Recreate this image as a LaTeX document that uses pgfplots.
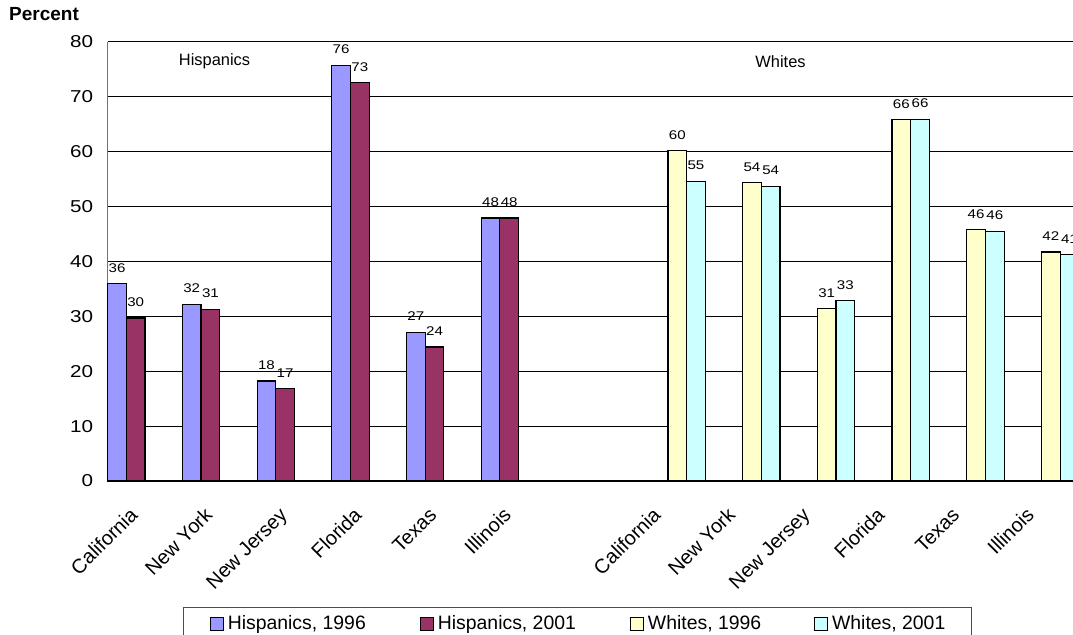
\documentclass[border=0pt]{standalone}
\usepackage{pgfplots}
\pgfplotsset{compat=1.18}
\usepackage{fontspec}
\setmainfont{Liberation Sans}
\newfontfamily\numfont{Liberation Sans}[FakeStretch=1.2]

\definecolor{hisA}{HTML}{9999FF}
\definecolor{hisB}{HTML}{993366}
\definecolor{whiA}{HTML}{FFFFCC}
\definecolor{whiB}{HTML}{CCFFFF}

% Share of each group, by state; bars sit in four slots per category
\pgfplotstableread{
x      y
0.125  35.9
1.125  32.2
2.125  18.2
3.125  75.7
4.125  27.1
5.125  47.9
}\hispSix
\pgfplotstableread{
x      y
0.375  29.7
1.375  31.3
2.375  16.8
3.375  72.6
4.375  24.4
5.375  47.9
}\hispOne
\pgfplotstableread{
x      y
7.625  60.2
8.625  54.3
9.625  31.4
10.625 65.8
11.625 45.8
12.625 41.7
}\whiSix
\pgfplotstableread{
x      y
7.875  54.6
8.875  53.7
9.875  32.8
10.875 65.9
11.875 45.5
12.875 41.3
}\whiOne

\begin{document}
\begin{tikzpicture}
\begin{axis}[
  at={(53.85pt,77pt)}, anchor=south west,
  scale only axis, width=485.55pt, height=219.65pt,
  xmin=0, xmax=13, ymin=0, ymax=80,
  ybar, bar width=0.25, bar shift=0pt,
  every axis plot post/.append style={
    /pgfplots/legend image code/.code={
      \draw[##1,draw=black,line width=0.5pt] (0pt,-3.3pt) rectangle (6.8pt,3.3pt);
      \path (8.6pt,0pt);
    }},
  axis lines=left,
  x axis line style={-, draw=black, line width=0.6pt},
  y axis line style={-, draw=black!55, line width=0.6pt},
  ymajorgrids, grid style={draw=black, line width=0.5pt},
  major tick length=0pt,
  ytick={0,10,...,80},
  xtick={0.5,1.5,2.5,3.5,4.5,5.5,7.5,8.5,9.5,10.5,11.5,12.5},
  xticklabels={California,New York,New Jersey,Florida,Texas,Illinois,
               California,New York,New Jersey,Florida,Texas,Illinois},
  /pgf/number format/assume math mode=true,
  yticklabel style={font=\numfont\fontsize{8.6}{10}\selectfont, anchor=east, inner sep=0pt, xshift=-7.1pt},
  xticklabel style={font=\fontsize{10}{12}\selectfont, inner sep=0pt, xshift=-3pt, yshift=-17.5pt, rotate=45, anchor=base east},
  nodes near coords={\pgfmathprintnumber[fixed,precision=0]{\pgfplotspointmeta}},
  nodes near coords style={font=\numfont\fontsize{6.3}{7}\selectfont, anchor=south, inner sep=0pt, yshift=5.3pt, text=black},
  clip=false,
  legend columns=4,
  legend cell align=left,
  legend style={at={(0.07754,-0.2861)}, anchor=north west,
    draw=black!70, line width=0.5pt, inner xsep=13pt, inner ysep=4pt,
    font=\fontsize{9.7}{11}\selectfont, /tikz/column sep=0pt,
    nodes={inner sep=0pt}},
]
\addplot[fill=hisA, draw=black, line width=0.6pt] table[x=x,y=y] {\hispSix};
\addlegendentry{\makebox[95.9pt][l]{Hispanics, 1996}}
\addplot[fill=hisB, draw=black, line width=0.6pt] table[x=x,y=y] {\hispOne};
\addlegendentry{\makebox[95.9pt][l]{Hispanics, 2001}}
\addplot[fill=whiA, draw=black, line width=0.6pt] table[x=x,y=y] {\whiSix};
\addlegendentry{\makebox[82.9pt][l]{Whites, 1996}}
\addplot[fill=whiB, draw=black, line width=0.6pt] table[x=x,y=y] {\whiOne};
\addlegendentry{Whites, 2001}

\node[font=\fontsize{8.2}{10}\selectfont] at (axis cs:1.43,76.5) {Hispanics};
\node[font=\fontsize{8.2}{10}\selectfont] at (axis cs:9.007,76.4) {Whites};
\end{axis}
\node[anchor=west, inner sep=0pt, font=\bfseries\fontsize{9.5}{11}\selectfont] at (4.4pt,310.5pt) {Percent};
\pgfresetboundingbox
\useasboundingbox (0,0) rectangle (536.5pt,317.5pt);
\end{tikzpicture}
\end{document}
